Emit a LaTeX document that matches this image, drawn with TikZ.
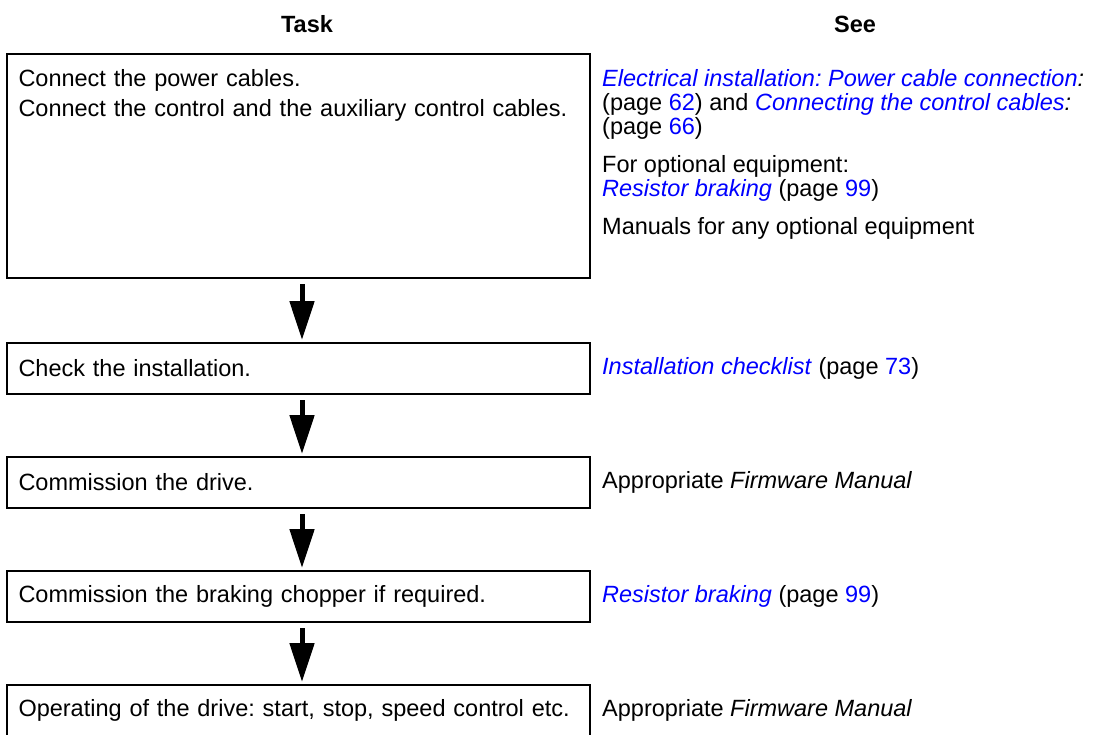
\documentclass[tikz,border=0pt]{standalone}
\usepackage{fontspec}
\setmainfont{Liberation Sans}
\usetikzlibrary{positioning,arrows.meta}

\definecolor{linkblue}{RGB}{0,0,255}
\newcommand{\lnk}[1]{\textcolor{linkblue}{\textit{#1}}}
\newcommand{\pgref}[1]{(page \textcolor{linkblue}{#1})}
\frenchspacing

\begin{document}
\begin{tikzpicture}[x=1pt,y=-1pt]
  % Base settings
  \tikzset{
    taskbox/.style={draw, line width=2.5pt, rectangle, outer sep=0pt,
      minimum width=583pt, minimum height=51pt, text width=560pt,
      align=left, inner xsep=11.5pt, inner ysep=0pt,
      font=\fontsize{23.5}{24}\selectfont},
    seetext/.style={align=left, inner sep=0pt,
      font=\fontsize{23.5}{24}\selectfont},
    header/.style={font=\fontsize{23.5}{24}\selectfont\bfseries},
    flowarrow/.style={line width=5pt, -{Triangle[width=24pt,length=39pt]}}
  }

  \useasboundingbox (0,0) rectangle (1102,735);

  % --- Headers ---
  \node[header] (hTask) at (307,24) {Task};
  \node[header] (hSee) at (855,24) {See};

  % --- Task column ---
  \node[taskbox, minimum height=224pt, anchor=north west] (task1) at (7,54)
    {\parbox[t][212pt][t]{560pt}{\rule{0pt}{27pt}Connect the power cables.\\[6pt]
     Connect the control and the auxiliary control cables.}};
  \node[taskbox, below=65pt of task1] (task2) {Check the installation.};
  \node[taskbox, below=63pt of task2] (task3) {Commission the drive.};
  \node[taskbox, below=63pt of task3] (task4) {Commission the braking chopper if required.};
  \node[taskbox, below=63pt of task4] (task5) {Operating of the drive: start, stop, speed control etc.};

  % --- Arrows ---
  \foreach \a/\b in {task1/task2, task2/task3, task3/task4, task4/task5}
    \draw[flowarrow] ([xshift=3.5pt,yshift=-6pt]\a.south) -- ([xshift=3.5pt,yshift=3pt]\b.north);

  % --- See column (base = last line) ---
  \node[seetext, anchor=base west] (see1a) at (602,135)
    {\lnk{Electrical installation: Power cable connection}\textit{:}\\
     \pgref{62} and \lnk{Connecting the control cables}\textit{:}\\
     \pgref{66}};
  \node[seetext, anchor=base west] (see1b) at (602,197)
    {For optional equipment:\\
     \lnk{Resistor braking} \pgref{99}};
  \node[seetext, anchor=base west] (see1c) at (602,235)
    {Manuals for any optional equipment};

  \node[seetext, right=12pt of task2] (see2) {\lnk{Installation checklist} \pgref{73}};
  \node[seetext, right=12pt of task3] (see3) {Appropriate \textit{Firmware Manual}};
  \node[seetext, right=12pt of task4] (see4) {\lnk{Resistor braking} \pgref{99}};
  \node[seetext, right=12pt of task5] (see5) {Appropriate \textit{Firmware Manual}};

\end{tikzpicture}
\end{document}
